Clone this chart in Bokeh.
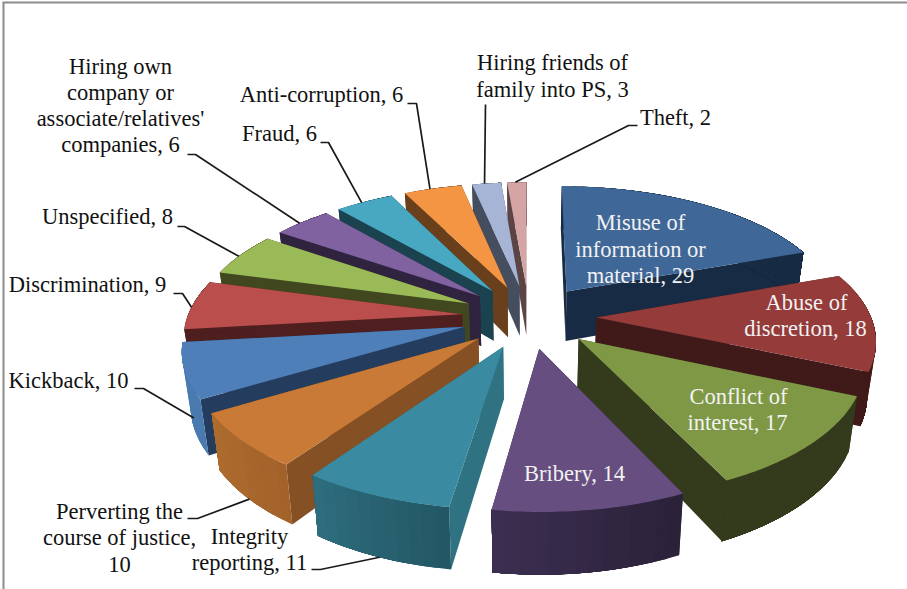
import math
from bokeh.embed import file_html
from bokeh.models import Range1d
from bokeh.plotting import figure
from bokeh.resources import INLINE
from bokeh.core.properties import value

# Reported cases by allegation type
categories = ["Misuse of information or material", "Abuse of discretion", "Conflict of interest",
              "Bribery", "Integrity reporting", "Perverting the course of justice", "Kickback",
              "Discrimination", "Unspecified", "Hiring own company or associate/relatives' companies",
              "Fraud", "Anti-corruption", "Hiring friends of family into PS", "Theft"]
counts = [29, 18, 17, 14, 11, 10, 10, 9, 8, 6, 6, 6, 3, 2]

top_colors = ["#3F6797", "#953B3A", "#7E9845", "#664F80", "#3A8AA1", "#C97A36", "#4E7FB9",
              "#BA4E4C", "#9ABA58", "#7F629F", "#48A8C2", "#F39543", "#A6B5D6", "#D5A4A5"]
side_colors = ["#172B44", "#401A18", "#343A1C", "#2F2540", "#2F7282", "#855024", "#243D5E",
               "#4F1E1E", "#41481F", "#30233F", "#1B434F", "#6A3F1B", "#454E5E", "#5C4445"]
# Outer wall shading, from the clockwise end of the arc to the other end
rim_start = ["#172B44", "#401A18", "#343A1C", "#2A2138", "#235664", "#A2622A", "#4A7AAF",
             "#4F1E1E", "#41481F", "#30233F", "#1B434F", "#6A3F1B", "#454E5E", "#5C4445"]
rim_end = ["#172B44", "#401A18", "#343A1C", "#3C2F52", "#2E6E7E", "#AE6C2E", "#4A7AAF",
           "#4F1E1E", "#41481F", "#30233F", "#1B434F", "#6A3F1B", "#454E5E", "#5C4445"]

# Projection of the tilted pie onto the page
CX, CY = 528.5, 316.0
SCALE_X, SCALE_Y = 274.5, 128.0
PERSPECTIVE = 0.15
EXPLODE = 0.245
DEPTH = 51.0
BASE_SHRINK = 0.975


def project(u, v, z=0.0):
    w = 1.0 + PERSPECTIVE * v
    x = SCALE_X * u / w
    y = SCALE_Y * v / w
    return CX + x * (1.0 - (1.0 - BASE_SHRINK) * z), CY - y + z * DEPTH / w


def hex_mix(a, b, t):
    ca = [int(a[i:i + 2], 16) for i in (1, 3, 5)]
    cb = [int(b[i:i + 2], 16) for i in (1, 3, 5)]
    return "#%02X%02X%02X" % tuple(round(p + (q - p) * t) for p, q in zip(ca, cb))


total = sum(counts)
slices = []
running = 0
for idx, n in enumerate(counts):
    a0 = 2 * math.pi * running / total
    a1 = 2 * math.pi * (running + n) / total
    running += n
    mid = (a0 + a1) / 2
    slices.append(dict(idx=idx, a0=a0, a1=a1,
                       ox=EXPLODE * math.sin(mid), oy=EXPLODE * math.cos(mid)))


def rim_point(s, frac, z=0.0):
    a = s["a0"] + (s["a1"] - s["a0"]) * frac
    return project(s["ox"] + math.sin(a), s["oy"] + math.cos(a), z)


def patch(xs, ys, color):
    patch_xs.append(xs)
    patch_ys.append(ys)
    patch_colors.append(color)


patch_xs, patch_ys, patch_colors = [], [], []

# Painter's order: the slices farthest from the viewer first
for s in sorted(slices, key=lambda d: -d["oy"]):
    i = s["idx"]
    apex_top = project(s["ox"], s["oy"], 0)
    apex_low = project(s["ox"], s["oy"], 1)
    for frac in (0.0, 1.0):
        e_top = rim_point(s, frac, 0)
        e_low = rim_point(s, frac, 1)
        patch([apex_top[0], e_top[0], e_low[0], apex_low[0]],
              [apex_top[1], e_top[1], e_low[1], apex_low[1]], side_colors[i])
    # Each wall band runs to the far end of the arc; later bands paint over it, so no seams show
    steps = max(6, counts[i])
    for k in range(steps):
        f0 = k / steps
        arc = [rim_point(s, f0 + (1 - f0) * j / 12, 0) for j in range(13)]
        low = [rim_point(s, f0 + (1 - f0) * j / 12, 1) for j in range(12, -1, -1)]
        patch([q[0] for q in arc + low], [q[1] for q in arc + low],
              hex_mix(rim_start[i], rim_end[i], (k + 0.5) / steps))
    arc = [rim_point(s, j / 40) for j in range(41)]
    patch([apex_top[0]] + [q[0] for q in arc], [apex_top[1]] + [q[1] for q in arc], top_colors[i])

p = figure(width=907, height=589, output_backend="svg", toolbar_location=None,
           x_range=Range1d(0, 907), y_range=Range1d(589, 0), min_border=0,
           background_fill_color="white", border_fill_color="white")
p.axis.visible = False
p.grid.visible = False
p.outline_line_color = None

# Chart area border
p.line([3, 3], [589, 2], line_color="#8C8C8C", line_width=2)
p.line([2, 907], [2, 2], line_color="#8C8C8C", line_width=2)

p.patches(patch_xs, patch_ys, fill_color=patch_colors, line_color=None)

# Leader lines: label elbow, then a point on the slice's outer edge
leaders = [
    (9, [(187, 154), (195, 154)], 0.45, 0.0),
    (10, [(320, 142), (328, 142)], 0.45, 0.0),
    (11, [(407, 103), (416, 103)], 0.45, 0.0),
    (12, [(485, 104)], 0.43, 0.0),
    (13, [(637, 125), (628, 125)], 0.42, 0.0),
    (8, [(177, 226), (184, 226)], 0.45, 0.0),
    (7, [(173, 293), (182, 293)], 0.45, 0.0),
    (6, [(134, 388), (143, 388)], 0.35, 0.7),
    (5, [(187, 518), (197, 518)], 0.5, 1.0),
    (4, [(311, 569), (320, 569)], 0.5, 1.0),
]
for i, elbow, frac, z in leaders:
    end = rim_point(slices[i], frac, z)
    pts = elbow + [end]
    p.line([q[0] for q in pts], [q[1] for q in pts], line_color="#1A1A1A", line_width=1.7)

FONT = value("Liberation Serif")
SIZE = value("22.5px")


def label(text, x, y, color="#111111", align="center"):
    p.text([x], [y], text=[text], text_font=FONT, text_font_size=SIZE, text_color=color,
           text_align=align, text_baseline="middle")


outer_labels = [
    ("Hiring friends of", 552, 62), ("family into PS, 3", 552, 89),
    ("Anti-corruption, 6", 321, 94), ("Fraud, 6", 279, 133),
    ("Hiring own", 120, 66), ("company or", 120, 92),
    ("associate/relatives'", 120, 118), ("companies, 6", 120, 144),
    ("Unspecified, 8", 107, 216), ("Discrimination, 9", 87, 284),
    ("Kickback, 10", 68, 380), ("Perverting the", 119, 511),
    ("course of justice,", 119, 537), ("10", 119, 564),
    ("Integrity", 249, 536), ("reporting, 11", 249, 562),
    ("Theft, 2", 675, 117),
]
for t, x, y in outer_labels:
    label(t, x, y)

inner_labels = [
    ("Misuse of", 640, 222), ("information or", 640, 249), ("material, 29", 640, 275),
    ("Abuse of", 806, 302), ("discretion, 18", 805, 328),
    ("Conflict of", 738, 396), ("interest, 17", 737, 422),
    ("Bribery, 14", 574, 473),
]
for t, x, y in inner_labels:
    label(t, x, y, color="#F2F2F2")

open("out.html", "w").write(file_html(p, INLINE))
